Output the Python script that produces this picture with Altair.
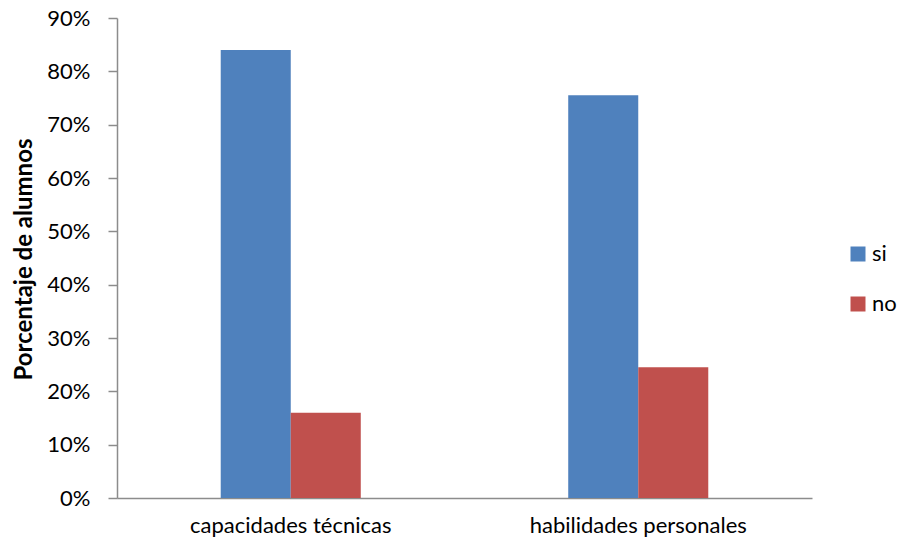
import altair as alt
import pandas as pd

categories = ["capacidades técnicas", "habilidades personales"]
series = ["si", "no"]
si_values = [0.84, 0.755]
no_values = [0.16, 0.245]

rows = []
for c, s, n in zip(categories, si_values, no_values):
    rows.append({"categoria": c, "respuesta": "si", "valor": s})
    rows.append({"categoria": c, "respuesta": "no", "valor": n})
df = pd.DataFrame(rows)

FONT = "Lato"

chart = alt.Chart(df).mark_bar().encode(
    x=alt.X("categoria:N", sort=categories, title=None,
            scale=alt.Scale(paddingInner=0.597, paddingOuter=0.2985),
            axis=alt.Axis(labelAngle=0, labelFontSize=22, labelFont=FONT,
                          labelColor="#000000", ticks=False, labelPadding=17,
                          labelLimit=0,
                          domainColor="#8c8c8c", domainWidth=1.5)),
    xOffset=alt.XOffset("respuesta:N", sort=series, scale=alt.Scale(paddingInner=0, paddingOuter=0)),
    y=alt.Y("valor:Q", title="Porcentaje de alumnos",
            scale=alt.Scale(domain=[0, 0.9], nice=False),
            axis=alt.Axis(format=".0%", values=[i / 10 for i in range(10)], grid=False,
                          labelFontSize=22, labelFont=FONT, labelColor="#000000",
                          tickSize=9, tickColor="#8c8c8c", domainColor="#8c8c8c",
                          domainWidth=1.5, tickWidth=1.5, labelPadding=18,
                          titleFontSize=24, titleFont=FONT, titleFontWeight="bold",
                          titleColor="#000000", titleX=-93, titleY=241,
                          titleAngle=270, titleAlign="center", titleBaseline="middle")),
    color=alt.Color("respuesta:N", sort=series,
                    scale=alt.Scale(domain=series, range=["#4F81BD", "#C0504D"]),
                    legend=alt.Legend(title=None, orient="none", legendX=730, legendY=225,
                                      symbolType="square", symbolSize=225,
                                      symbolStrokeWidth=0, labelFontSize=22,
                                      labelFont=FONT, labelColor="#000000",
                                      rowPadding=28, padding=0, labelOffset=3)),
).properties(
    width=695, height=480,
    padding={"left": 109, "top": 10, "right": 86, "bottom": 39},
    autosize=alt.AutoSizeParams(type="none"),
).configure_view(stroke=None)

chart.save("out.html", embed_options={"renderer": "svg", "actions": False})
